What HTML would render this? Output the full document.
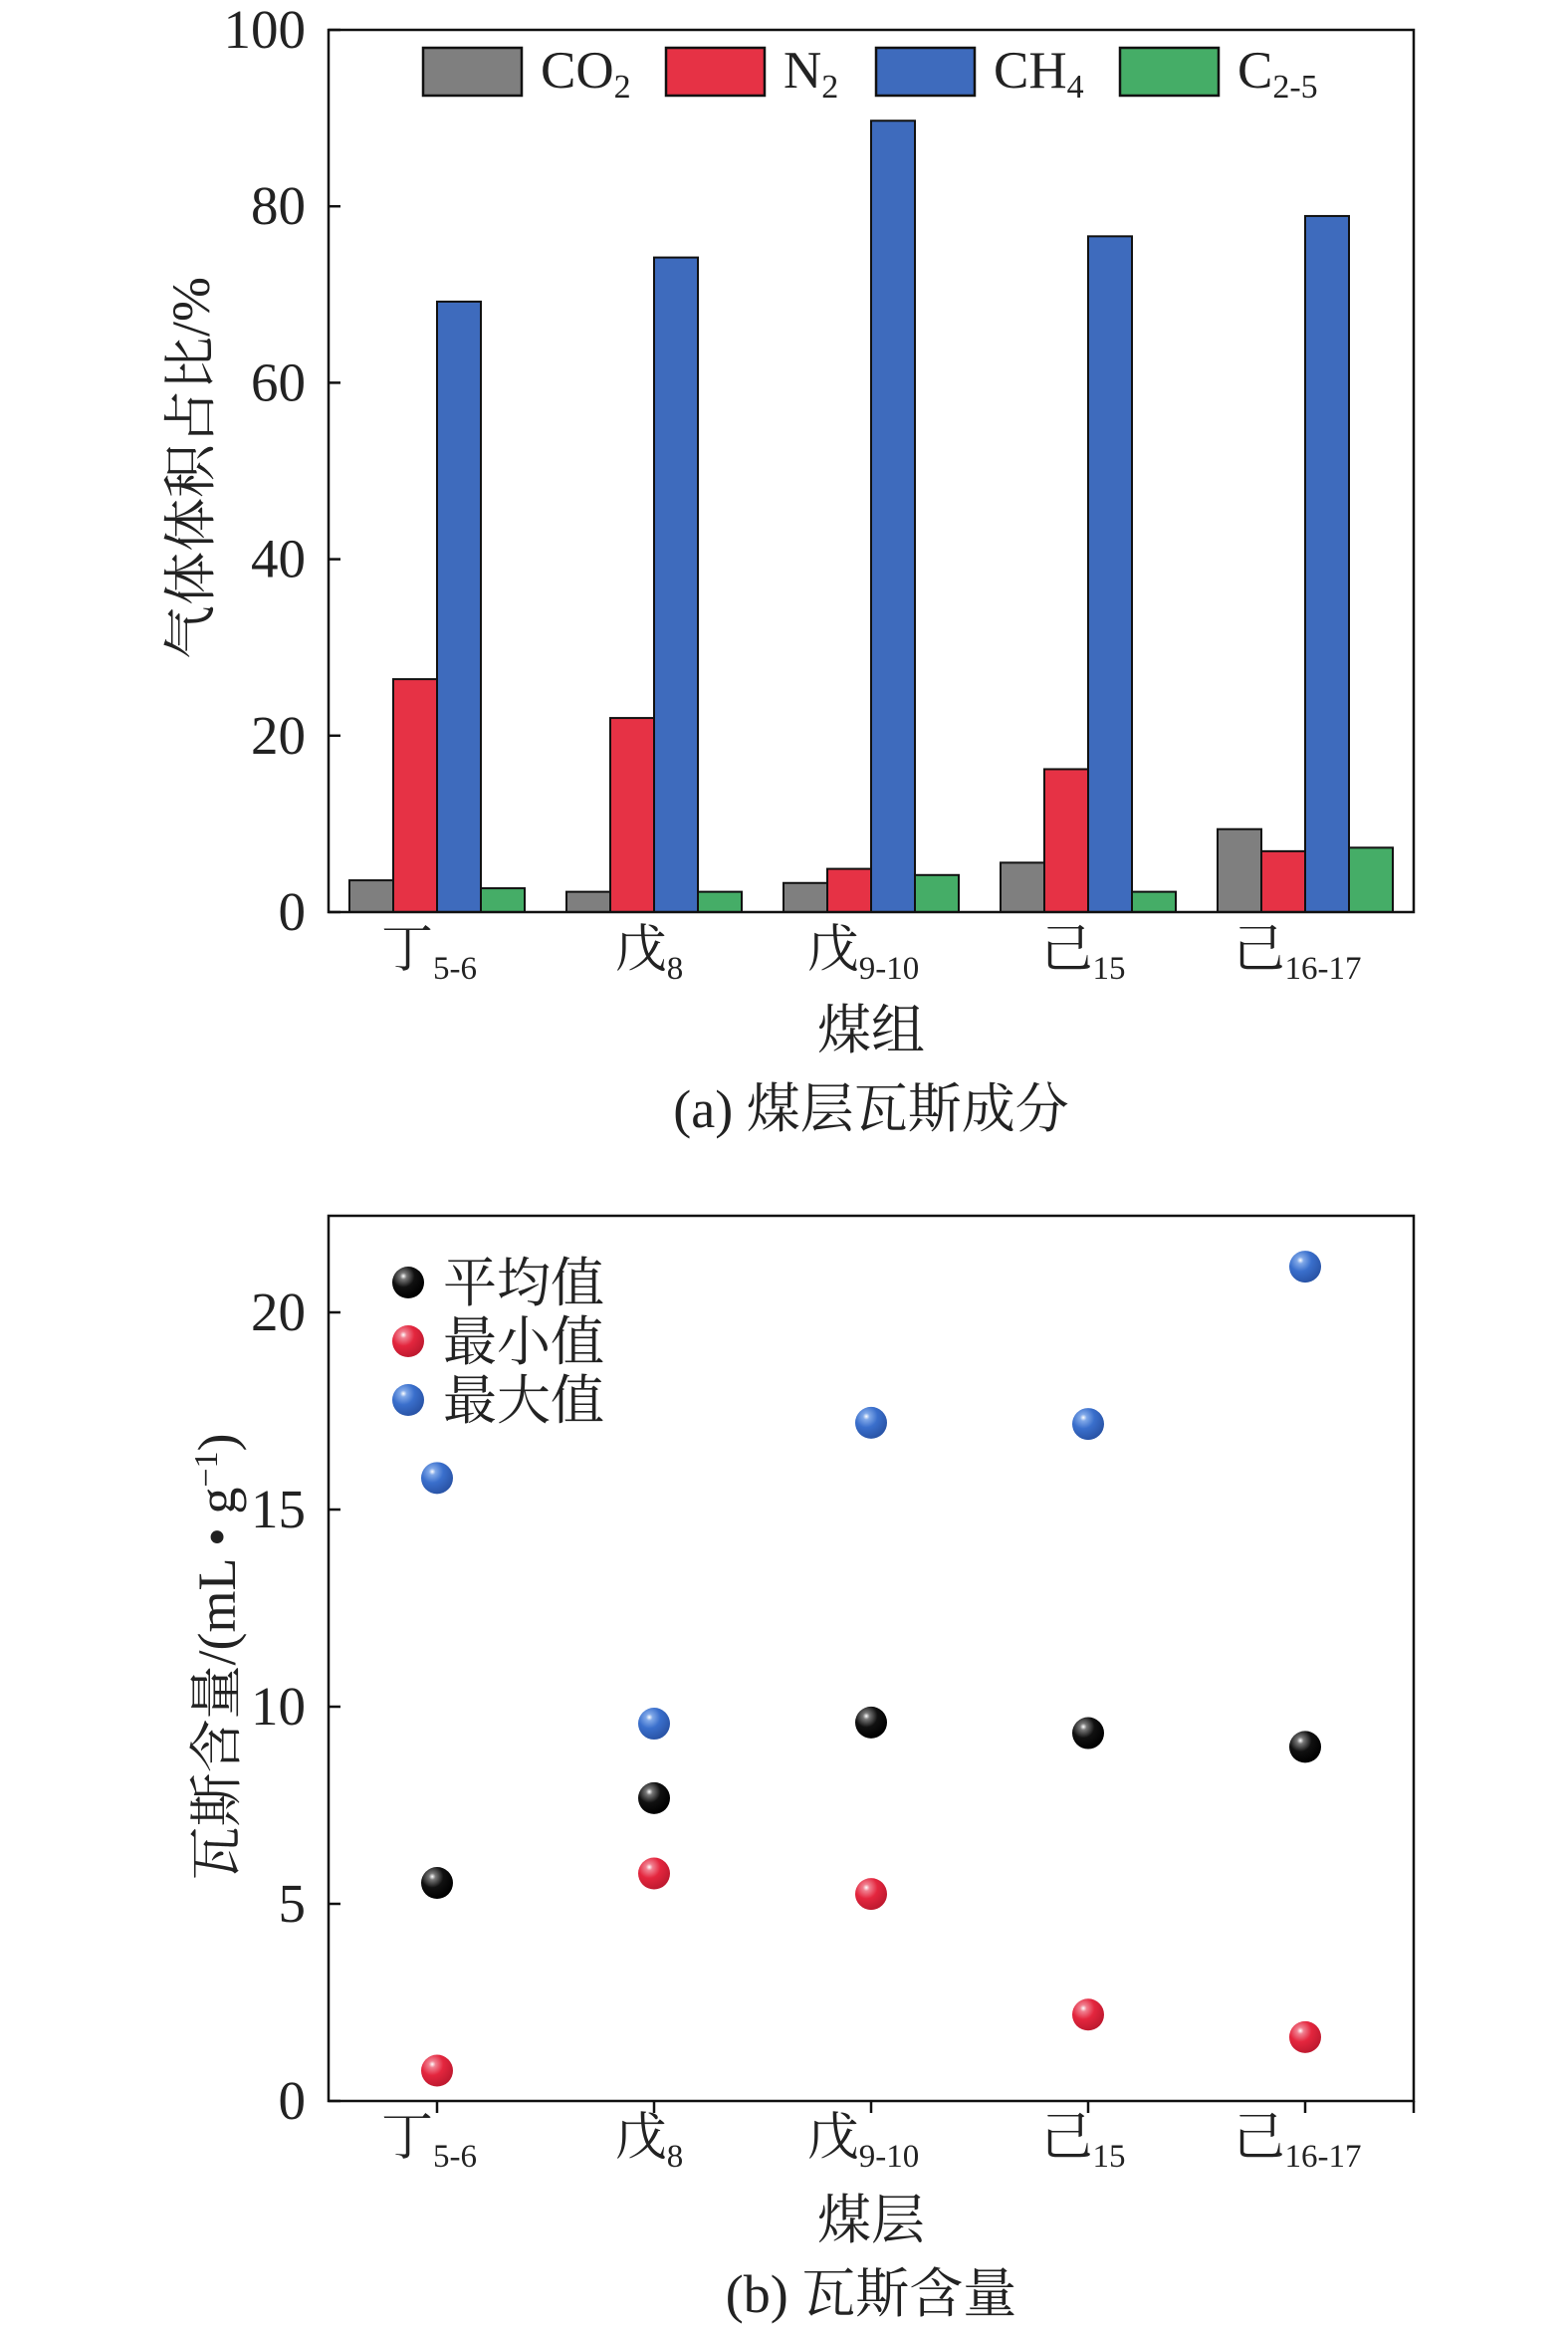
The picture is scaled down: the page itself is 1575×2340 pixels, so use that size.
<!DOCTYPE html>
<html><head><meta charset="utf-8"><style>
html,body{margin:0;padding:0;background:#fff;}
svg text{font-family:"Liberation Serif","Noto Serif CJK SC",serif;fill:#222;}
</style></head><body>
<svg id="fig" width="1575" height="2335" viewBox="0 0 1575 2335" xmlns="http://www.w3.org/2000/svg">
<defs>
<radialGradient id="gk" cx="35%" cy="30%" r="70%"><stop offset="0" stop-color="#fff"/><stop offset="0.15" stop-color="#777"/><stop offset="0.5" stop-color="#111"/><stop offset="1" stop-color="#000"/></radialGradient>
<radialGradient id="gr" cx="35%" cy="30%" r="70%"><stop offset="0" stop-color="#fff"/><stop offset="0.15" stop-color="#f08090"/><stop offset="0.5" stop-color="#e4263e"/><stop offset="1" stop-color="#c01a30"/></radialGradient>
<radialGradient id="gb" cx="35%" cy="30%" r="70%"><stop offset="0" stop-color="#fff"/><stop offset="0.15" stop-color="#80a8e8"/><stop offset="0.5" stop-color="#3a6fcc"/><stop offset="1" stop-color="#2a55a8"/></radialGradient>
</defs>
<g id="chartA"></g>
<g id="chartB"></g>
</svg>
<script>
const groupsMain = ["丁","戊","戊","己","己"];
const groupsSub = ["5-6","8","9-10","15","16-17"];
const seriesNames = ["CO2","N2","CH4","C2-5"];
const co2 = [3.6, 2.3, 3.3, 5.6, 9.4];
const n2 = [26.4, 22.0, 4.9, 16.2, 6.9];
const ch4 = [69.2, 74.2, 89.7, 76.6, 78.9];
const c25 = [2.7, 2.3, 4.2, 2.3, 7.3];
const yTicksA = [0,20,40,60,80,100];
const avgVals = [5.53, 7.68, 9.6, 9.33, 8.98];
const minVals = [0.77, 5.77, 5.25, 2.19, 1.62];
const maxVals = [15.8, 9.57, 17.2, 17.17, 21.16];
const yTicksB = [0,5,10,15,20];

const NS="http://www.w3.org/2000/svg";
function mk(parent,tag,attrs,text){const e=document.createElementNS(NS,tag);for(const k in attrs)e.setAttribute(k,attrs[k]);if(text!==undefined)e.textContent=text;parent.appendChild(e);return e;}

const L=330,R=1420,band=(R-L)/5;
function xc(i){return L+band*(i+0.5);}

// ---------- Chart A ----------
const A=document.getElementById('chartA');
const aTop=30,aBot=916;
function ya(v){return aBot-(v/100)*(aBot-aTop);}
const colors=["#7f7f7f","#e63245","#3e6bbd","#45ad67"];
const allSeries=[co2,n2,ch4,c25];
const bw=44;
allSeries.forEach((s,si)=>{s.forEach((v,i)=>{
  const x=xc(i)-2*bw+si*bw;
  const r=mk(A,'rect',{x:x,y:ya(v),width:bw,height:aBot-ya(v),fill:colors[si],stroke:'#111','stroke-width':2});
  
  
});});
let fr=mk(A,'rect',{x:L,y:aTop,width:R-L,height:aBot-aTop,fill:'none',stroke:'#111','stroke-width':2.5});

yTicksA.forEach(t=>{
  mk(A,'line',{x1:L,x2:L+12,y1:ya(t),y2:ya(t),stroke:'#111','stroke-width':2.5});
  const tx=mk(A,'text',{x:307,y:ya(t)+18,'text-anchor':'end','font-size':55},t);
  
});
function catLabel(G,i,y){
  const t=mk(G,'text',{x:xc(i)+ (groupsSub[i].length>2?-8:-5),y:y,'text-anchor':'middle','font-size':52});
  mk(t,'tspan',{},groupsMain[i]);
  mk(t,'tspan',{'font-size':33,dy:12},groupsSub[i]);
  
}
groupsMain.forEach((g,i)=>catLabel(A,i,971));
let t1=mk(A,'text',{x:875,y:1053,'text-anchor':'middle','font-size':54},'煤组');

let t2=mk(A,'text',{x:875,y:1132,'text-anchor':'middle','font-size':54},'(a) 煤层瓦斯成分');

let t3=mk(A,'text',{x:0,y:0,'text-anchor':'middle','font-size':54,transform:'translate(210,470) rotate(-90)'},'气体体积占比/%');

// legend
const legX=[425,669,880,1125];
const legLbl=[["CO","2"],["N","2"],["CH","4"],["C","2-5"]];
legX.forEach((x,i)=>{
  const g=mk(A,'g',{});
  
  
  mk(g,'rect',{x:x,y:48,width:99,height:48,fill:colors[i],stroke:'#111','stroke-width':2.5});
  const t=mk(g,'text',{x:x+118,y:88,'font-size':53});
  mk(t,'tspan',{},legLbl[i][0]);mk(t,'tspan',{'font-size':34,dy:10},legLbl[i][1]);
});

// ---------- Chart B ----------
const B=document.getElementById('chartB');
const bTop=1221,bBot=2110,bMax=22.45;
function yb(v){return bBot-(v/bMax)*(bBot-bTop);}
let fb=mk(B,'rect',{x:L,y:bTop,width:R-L,height:bBot-bTop,fill:'none',stroke:'#111','stroke-width':2.5});

mk(B,'line',{x1:R,x2:R,y1:bBot,y2:bBot+12,stroke:'#111','stroke-width':2.5});
yTicksB.forEach(t=>{
  mk(B,'line',{x1:L,x2:L+12,y1:yb(t),y2:yb(t),stroke:'#111','stroke-width':2.5});
  const tx=mk(B,'text',{x:307,y:yb(t)+18,'text-anchor':'end','font-size':55},t);
  
});
groupsMain.forEach((g,i)=>{
  mk(B,'line',{x1:xc(i),x2:xc(i),y1:bBot,y2:bBot+12,stroke:'#111','stroke-width':2.5});
  catLabel(B,i,2164);
});
const ptSeries=[[avgVals,'url(#gk)','avg'],[minVals,'url(#gr)','min'],[maxVals,'url(#gb)','max']];
ptSeries.forEach(([vals,fill,nm])=>{vals.forEach((v,i)=>{
  const c=mk(B,'circle',{cx:xc(i),cy:yb(v),r:16,fill:fill});
  
  
});});
const legB=[['平均值','url(#gk)',1288],['最小值','url(#gr)',1347],['最大值','url(#gb)',1406]];
legB.forEach(([l,f,y])=>{
  const g=mk(B,'g',{});
  
  
  mk(g,'circle',{cx:410,cy:y,r:16,fill:f});
  mk(g,'text',{x:445,y:y+19,'font-size':54},l);
});
let t4=mk(B,'text',{x:0,y:0,'text-anchor':'middle','font-size':54,transform:'translate(236,1664) rotate(-90)'});
mk(t4,'tspan',{},'瓦斯含量/(mL • g');mk(t4,'tspan',{'font-size':34,dy:-18},'−1');mk(t4,'tspan',{dy:18},')');

let t5=mk(B,'text',{x:875,y:2248,'text-anchor':'middle','font-size':54},'煤层');

let t6=mk(B,'text',{x:875,y:2322,'text-anchor':'middle','font-size':54},'(b) 瓦斯含量');

</script>
</body></html>
